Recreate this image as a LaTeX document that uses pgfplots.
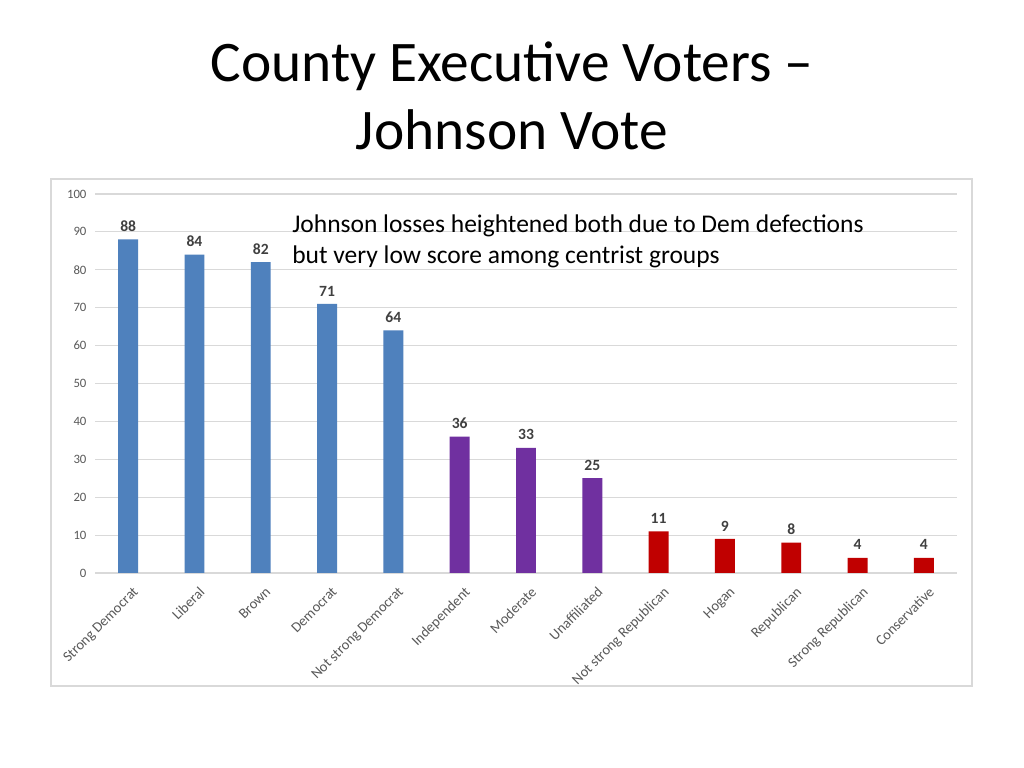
\documentclass[border=0pt]{standalone}
\usepackage{pgfplots}
\pgfplotsset{compat=1.18}
\usepackage{fontspec}
\setmainfont{Carlito}
\definecolor{dblue}{HTML}{4F81BD}
\definecolor{dpurple}{HTML}{7030A0}
\definecolor{dred}{HTML}{C00000}
\definecolor{gridc}{HTML}{D9D9D9}
\definecolor{txtc}{HTML}{595959}
\definecolor{lblc}{HTML}{404040}
\begin{document}
\begin{tikzpicture}
\path[fill=white] (0bp,0bp) rectangle (720bp,540bp);
\draw[gridc, line width=1pt] (35.86bp,414.14bp) rectangle (683.44bp,57.66bp);
\node[font=\fontsize{40.5}{48}\selectfont, anchor=base] at (360bp,482.34bp) {County Executive Voters –};
\node[font=\fontsize{40.5}{48}\selectfont, anchor=base] at (360bp,434.53bp) {Johnson Vote};
\begin{axis}[
  at={(66.80bp,137.11bp)}, anchor=south west,
  scale only axis, width=606.1bp, height=266.5bp,
  xmin=-0.5, xmax=12.5, ymin=0, ymax=100,
  ytick={0,10,...,100},
  xtick={0,...,12},
  xticklabels={Strong Democrat,Liberal,Brown,Democrat,Not strong Democrat,Independent,Moderate,Unaffiliated,Not strong Republican,Hogan,Republican,Strong Republican,Conservative},
  /pgf/number format/assume math mode=true,
  ymajorgrids, grid style={gridc, line width=0.8pt},
  axis line style={draw=none}, tick style={draw=none},
  x tick label style={rotate=45, anchor=north east, font=\fontsize{10.2}{12}\selectfont, text=txtc, yshift=-2pt, xshift=2pt},
  y tick label style={font=\fontsize{9}{10}\selectfont, text=txtc, xshift=-2.5pt},
  ybar, bar width=14bp, bar shift=0pt,
  nodes near coords,
  every node near coord/.append style={font=\fontsize{11}{13}\selectfont\bfseries, text=lblc, yshift=2pt},
]
\addplot[fill=dblue, draw=none] coordinates {(0,88) (1,84) (2,82) (3,71) (4,64)};
\addplot[fill=dpurple, draw=none] coordinates {(5,36) (6,33) (7,25)};
\addplot[fill=dred, draw=none] coordinates {(8,11) (9,9) (10,8) (11,4) (12,4)};
\end{axis}
\node[font=\fontsize{18}{21.8}\selectfont, anchor=base west, inner sep=0pt] at (205.31bp,376.17bp) {Johnson losses heightened both due to Dem defections};
\node[font=\fontsize{18}{21.8}\selectfont, anchor=base west, inner sep=0pt] at (205.31bp,354.38bp) {but very low score among centrist groups};
\end{tikzpicture}
\end{document}
